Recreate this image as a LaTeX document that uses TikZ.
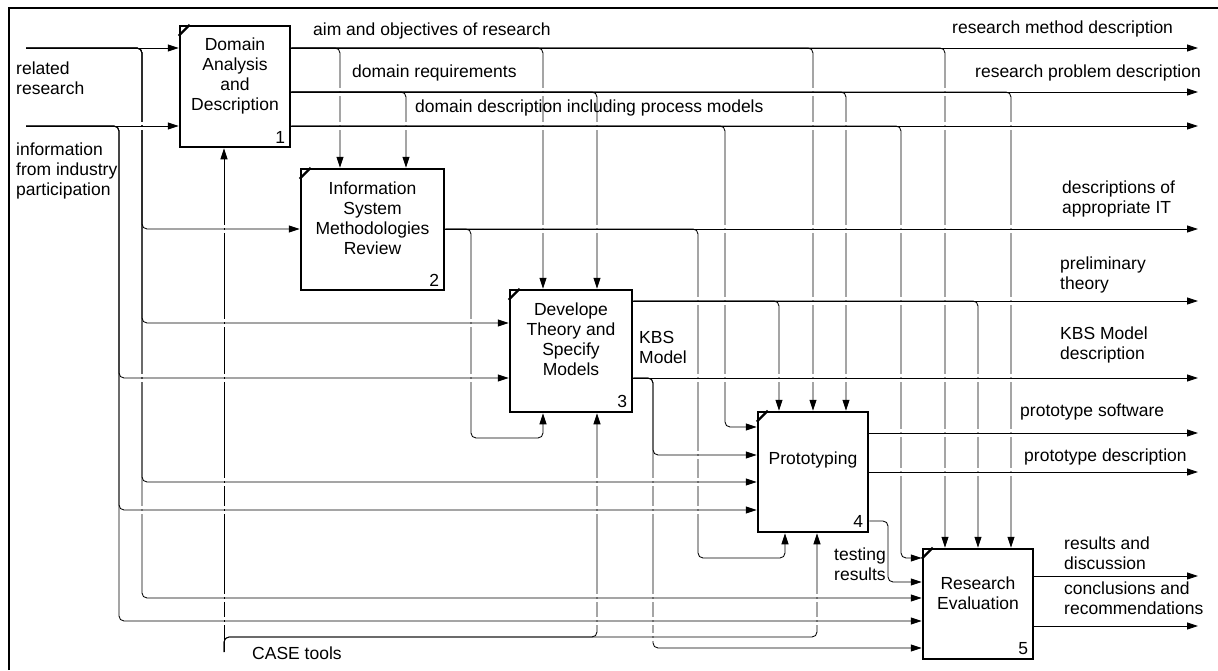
\documentclass[tikz,border=0pt]{standalone}
\usepackage{fontspec}
\setmainfont{Liberation Sans}
\usetikzlibrary{arrows.meta}
\begin{document}
\begin{tikzpicture}[x=1pt,y=-1pt,
  every node/.style={font=\fontsize{17.5}{20}\selectfont, inner sep=0pt},
  >={Triangle[length=11pt,width=7pt]},
  box/.style={draw, line width=2.5pt, fill=white},
  flow/.style={draw, line width=0.85pt, rounded corners=5pt},
  boxtext/.style={align=center},
  boxnum/.style={anchor=center},
  lbl/.style={anchor=west, align=left},
  corner/.style={line width=2.2pt}]

\useasboundingbox (0,0) rectangle (1218,670);

% sheet frame
\draw[line width=2.5pt] (9,670) -- (9,8) -- (1218,8);

% activity boxes
\node[box, minimum width=110pt, minimum height=121pt] (b1) at (235,86.5) {};
\node[box, minimum width=143pt, minimum height=121pt] (b2) at (372.5,229.5) {};
\node[box, minimum width=122pt, minimum height=122pt] (b3) at (571,351) {};
\node[box, minimum width=110pt, minimum height=120pt] (b4) at (813,472) {};
\node[box, minimum width=110pt, minimum height=110pt] (b5) at (978,604) {};

% external sources
\coordinate (src1) at (26,48);
\coordinate (src2) at (26,126);
\coordinate (src3) at (224,652);

% ---- inputs from the left and their distribution
\draw[flow,->] (src1) -- (src1 -| b1.west);
\draw[flow,->] (src2) -- (src2 -| b1.west);
\draw[flow,->] (src1) -- (142,48) -- (142,229) -- (b2.west |- 0,229);
\draw[flow,->] (src1) -- (142,48) -- (142,323) -- (b3.west |- 0,323);
\draw[flow,->] (src1) -- (142,48) -- (142,482) -- (b4.west |- 0,482);
\draw[flow,->] (src1) -- (142,48) -- (142,598) -- (b5.west |- 0,598);
\draw[flow,->] (src2) -- (119,126) -- (119,378) -- (b3.west |- 0,378);
\draw[flow,->] (src2) -- (119,126) -- (119,510) -- (b4.west |- 0,510);
\draw[flow,->] (src2) -- (119,126) -- (119,621) -- (b5.west |- 0,621);

% ---- mechanism: CASE tools
\draw[flow,->] (src3) -- (src3 |- b1.south);
\draw[flow,->] (src3) -- (224,637) -- (597,637) -- (b3.south -| 597,0);
\draw[flow,->] (src3) -- (224,637) -- (817,637) -- (b4.south -| 817,0);

% ---- outputs of box 1
\draw[flow,->] (b1.east |- 0,48) -- (1198,48);
\draw[flow,->] (b1.east |- 0,48) -- (340,48) -- (b2.north -| 340,0);
\draw[flow,->] (b1.east |- 0,48) -- (543,48) -- (b3.north -| 543,0);
\draw[flow,->] (b1.east |- 0,48) -- (813,48) -- (b4.north -| 813,0);
\draw[flow,->] (b1.east |- 0,48) -- (945,48) -- (b5.north -| 945,0);
\draw[flow,->] (b1.east |- 0,92) -- (1198,92);
\draw[flow,->] (b1.east |- 0,92) -- (406,92) -- (b2.north -| 406,0);
\draw[flow,->] (b1.east |- 0,92) -- (597,92) -- (b3.north -| 597,0);
\draw[flow,->] (b1.east |- 0,92) -- (846,92) -- (b4.north -| 846,0);
\draw[flow,->] (b1.east |- 0,92) -- (1011,92) -- (b5.north -| 1011,0);
\draw[flow,->] (b1.east |- 0,126) -- (1198,126);
\draw[flow,->] (b1.east |- 0,126) -- (725,126) -- (725,427) -- (b4.west |- 0,427);
\draw[flow,->] (b1.east |- 0,126) -- (901,126) -- (901,558) -- (b5.west |- 0,558);

% ---- outputs of box 2
\draw[flow,->] (b2.east |- 0,229) -- (1198,229);
\draw[flow,->] (b2.east |- 0,229) -- (471,229) -- (471,438) -- (543,438) -- (b3.south -| 543,0);
\draw[flow,->] (b2.east |- 0,229) -- (698,229) -- (698,558) -- (785,558) -- (b4.south -| 785,0);

% ---- outputs of box 3
\draw[flow,->] (b3.east |- 0,301) -- (1198,301);
\draw[flow,->] (b3.east |- 0,301) -- (779,301) -- (b4.north -| 779,0);
\draw[flow,->] (b3.east |- 0,301) -- (978,301) -- (b5.north -| 978,0);
\draw[flow,->] (b3.east |- 0,378) -- (1198,378);
\draw[flow,->] (b3.east |- 0,378) -- (653,378) -- (653,455) -- (b4.west |- 0,455);
\draw[flow,->] (b3.east |- 0,378) -- (653,378) -- (653,648) -- (b5.west |- 0,648);

% ---- outputs of box 4
\draw[flow,->] (b4.east |- 0,433) -- (1198,433);
\draw[flow,->] (b4.east |- 0,472) -- (1198,472);
\draw[flow,->] (b4.east |- 0,521) -- (888,521) -- (888,582) -- (b5.west |- 0,582);

% ---- outputs of box 5
\draw[flow,->] (b5.east |- 0,576) -- (1198,576);
\draw[flow,->] (b5.east |- 0,626) -- (1198,626);

% bridges: vertical lines are broken where a horizontal line crosses them
\foreach \x/\y in {
  142/126, 142/378, 142/510,
  224/229, 224/323, 224/378, 224/482, 224/510, 224/598, 224/621,
  340/92, 340/126, 406/126,
  543/92, 543/126, 543/229, 597/126, 597/229,
  813/92, 813/126, 813/229, 813/301, 813/378,
  846/126, 846/229, 846/301, 846/378,
  945/92, 945/126, 945/229, 945/301, 945/378, 945/433, 945/472,
  1011/126, 1011/229, 1011/301, 1011/378, 1011/433, 1011/472,
  725/229, 725/301, 725/378,
  901/229, 901/301, 901/378, 901/433, 901/472,
  471/323, 471/378,
  698/301, 698/378, 698/455, 698/482, 698/510,
  779/378, 978/378, 978/433, 978/472,
  653/482, 653/510, 653/598, 653/621, 653/637,
  597/482, 597/510, 597/598, 597/621,
  817/598, 817/621}
{
  \fill[white] (\x-1.6,\y-3.8) rectangle (\x+1.6,\y-0.6);
  \fill[white] (\x-1.6,\y+0.6) rectangle (\x+1.6,\y+3.8);
}

% box corner marks
\foreach \b in {b1,b2,b3,b4,b5}
  \draw[corner] ([yshift=-11pt]\b.north west) -- ([xshift=11pt]\b.north west);

% box titles and numbers
\node[boxtext] (t1) at ([yshift=11pt]b1.center) {Domain\\Analysis\\and\\Description};
\node[boxtext] (t2) at ([yshift=11pt]b2.center) {Information\\System\\Methodologies\\Review};
\node[boxtext] (t3) at ([yshift=12pt]b3.center) {Develope\\Theory and\\Specify\\Models};
\node[boxtext] (t4) at ([yshift=12pt]b4.center) {Prototyping};
\node[boxtext] (t5) at ([yshift=11pt]b5.center) {Research\\Evaluation};
\node[boxnum] (n1) at ([xshift=-11pt,yshift=11pt]b1.south east) {1};
\node[boxnum] (n2) at ([xshift=-11pt,yshift=11pt]b2.south east) {2};
\node[boxnum] (n3) at ([xshift=-11pt,yshift=12pt]b3.south east) {3};
\node[boxnum] (n4) at ([xshift=-11pt,yshift=12pt]b4.south east) {4};
\node[boxnum] (n5) at ([xshift=-11pt,yshift=12pt]b5.south east) {5};

% arrow labels
\node[lbl] (l1) at (16,78) {related\\research};
\node[lbl] (l2) at (16,171) {information\\from industry\\participation};
\node[lbl] (l3) at (313,31) {aim and objectives of research};
\node[lbl] (l4) at (352,73) {domain requirements};
\node[lbl] (l5) at (415,108) {domain description including process models};
\node[lbl] (l6) at (952,29) {research method description};
\node[lbl] (l7) at (975,73) {research problem description};
\node[lbl] (l8) at (1062,199) {descriptions of\\appropriate IT};
\node[lbl] (l9) at (1060,275) {preliminary\\theory};
\node[lbl] (l10) at (1060,345) {KBS Model\\description};
\node[lbl] (l11) at (639,347) {KBS\\Model};
\node[lbl] (l12) at (1020,412) {prototype software};
\node[lbl] (l13) at (1024,457) {prototype description};
\node[lbl] (l14) at (834,564) {testing\\results};
\node[lbl] (l15) at (1064,553) {results and\\discussion};
\node[lbl] (l16) at (1064,598) {conclusions and\\recommendations};
\node[lbl] (l17) at (252,653) {CASE tools};

\end{tikzpicture}
\end{document}
